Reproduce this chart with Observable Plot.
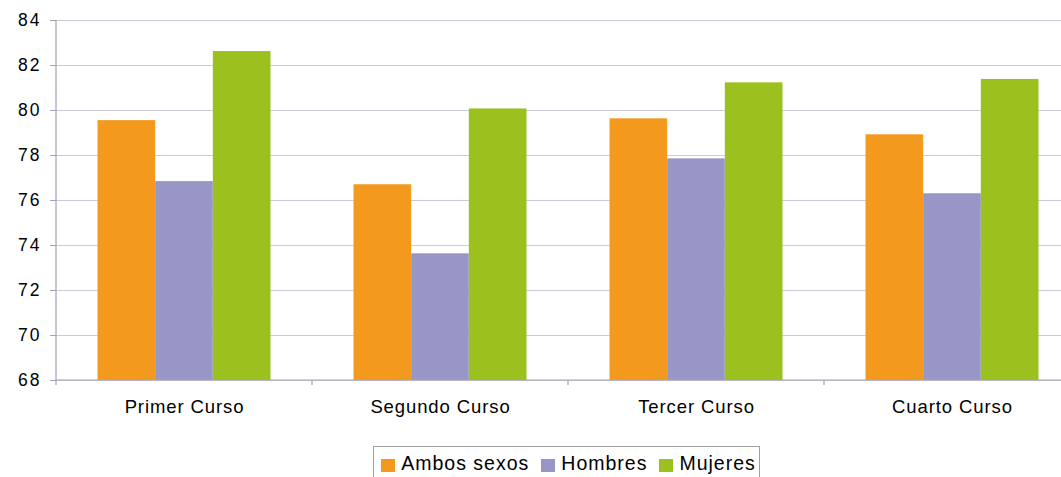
<!DOCTYPE html>
<html>
<head>
<meta charset="utf-8">
<script src="https://cdn.jsdelivr.net/npm/d3@7"></script>
<script src="https://cdn.jsdelivr.net/npm/@observablehq/plot@0.6"></script>
<style>
  html, body { margin: 0; padding: 0; background: #fff; }
  body { width: 1061px; height: 477px; overflow: hidden; font-family: "Liberation Sans", Arial, sans-serif; position: relative; }
  #chart { position: absolute; left: 0; top: 0; width: 1080px; }
  #chart svg { max-width: none !important; display: block; }
  #legend { position: absolute; left: 373px; top: 446px; width: 387px; height: 40px; border: 1px solid #a0a0a0; box-sizing: border-box;
            display: flex; align-items: flex-start; justify-content: center; gap: 12px; padding-top: 5px; padding-left: 4px; font-size: 19.5px; letter-spacing: 1px; color: #000; }
  #legend .item { display: flex; align-items: center; gap: 6px; }
  #legend .sw { width: 14px; height: 13px; display: inline-block; margin-top: 3px; }
  g[aria-label="y-axis tick label"] text { letter-spacing: 2px; }
  g[aria-label="fx-axis tick label"] text { letter-spacing: 0.9px; }
</style>
</head>
<body>
<div id="chart"></div>
<div id="legend"></div>
<script>
const categories = ["Primer Curso", "Segundo Curso", "Tercer Curso", "Cuarto Curso"];
const series = ["Ambos sexos", "Hombres", "Mujeres"];
const ambos = [79.55, 76.70, 79.63, 78.92];
const hombres = [76.84, 73.63, 77.85, 76.30];
const mujeres = [82.62, 80.07, 81.23, 81.38];
const yTicks = [68, 70, 72, 74, 76, 78, 80, 82, 84];
const colors = ["#F39A1E", "#9896C6", "#9CC11E"];

const valuesBySeries = [ambos, hombres, mujeres];
const data = [];
categories.forEach((c, i) => series.forEach((s, j) => data.push({category: c, series: s, value: valuesBySeries[j][i]})));

const plot = Plot.plot({
  width: 1080,
  height: 432,
  marginLeft: 56,
  marginRight: 0,
  marginTop: 20,
  marginBottom: 52,
  style: {fontFamily: "'Liberation Sans', Arial, sans-serif", color: "#000", background: "#fff", maxWidth: "none"},
  fx: {domain: categories, padding: 0, round: false, label: null},
  x: {domain: series, paddingInner: 0, paddingOuter: 0.72, round: false, axis: null},
  y: {domain: [68, 84], label: null},
  color: {domain: series, range: colors},
  marks: [
    Plot.gridY(yTicks, {stroke: "#cdc9dc", strokeOpacity: 1, strokeWidth: 1.2}),
    Plot.barY(data, {fx: "category", x: "series", y1: 68, y2: "value", fill: "series"}),
    Plot.axisY(yTicks, {tickSize: 6, tickPadding: 9, fontSize: 17.5, stroke: "#a6a2b4", label: null}),
    Plot.axisFx({anchor: "bottom", tickSize: 0, tickPadding: 19, fontSize: 18.5, label: null})
  ]
});
document.getElementById("chart").appendChild(plot);

// axis lines and boundary ticks, positioned via Plot's scales
const fx = plot.scale("fx"), y = plot.scale("y");
const svg = d3.select(plot);
const g = svg.append("g").attr("stroke", "#a6a2b4").attr("stroke-width", 1.2).attr("fill", "none");
const y0 = y.apply(68), yTop = y.apply(84);
const left = fx.apply(categories[0]);
const right = fx.apply(categories[categories.length - 1]) + fx.bandwidth;
g.append("line").attr("x1", left).attr("x2", left).attr("y1", yTop).attr("y2", y0 + 5);
g.append("line").attr("x1", left).attr("x2", right).attr("y1", y0).attr("y2", y0);
categories.forEach(c => {
  const xe = fx.apply(c) + fx.bandwidth;
  g.append("line").attr("x1", xe).attr("x2", xe).attr("y1", y0).attr("y2", y0 + 5);
});

// legend
const legend = d3.select("#legend");
series.forEach((s, i) => {
  const it = legend.append("div").attr("class", "item");
  it.append("span").attr("class", "sw").style("background", colors[i]);
  it.append("span").text(s);
});
</script>
</body>
</html>
